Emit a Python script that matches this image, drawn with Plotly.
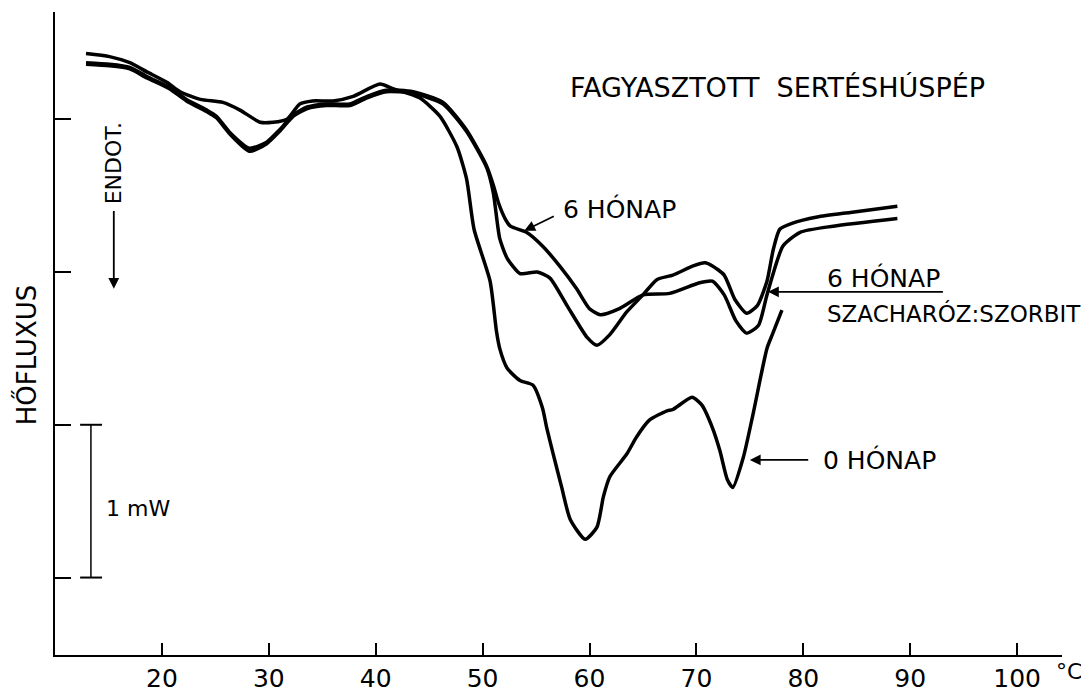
import plotly.graph_objects as go

# DSC thermogram, frozen pork mince
# temperature in degC, heat flux in mW (arbitrary baseline)

# 0 months
t0 = [12.9, 15.1, 17.0, 18.6, 20.5, 21.7, 23.6, 25.7, 27.3, 29.2, 30.4, 31.7, 32.9,
      34.1, 36.0, 37.9, 40.4, 41.6, 44.1, 46.0, 47.6, 48.5, 49.2, 50.7, 51.3, 51.6,
      52.3, 53.5, 54.7, 55.6, 56.0, 56.6, 57.4, 58.2, 59.6, 60.7, 61.3, 61.9, 63.5,
      64.4, 65.6, 67.2, 67.8, 69.6, 70.5, 71.5, 72.2, 72.9, 73.4, 74.4, 75.3, 76.6,
      77.1, 78.0]
q0 = [3.43, 3.41, 3.37, 3.31, 3.24, 3.18, 3.13, 3.11, 3.06, 2.98, 2.98, 3.00, 3.10,
      3.12, 3.12, 3.15, 3.23, 3.20, 3.14, 3.02, 2.82, 2.61, 2.28, 1.94, 1.61, 1.50,
      1.37, 1.29, 1.26, 1.11, 0.98, 0.81, 0.59, 0.38, 0.25, 0.33, 0.53, 0.66, 0.81,
      0.92, 1.03, 1.09, 1.10, 1.18, 1.13, 0.98, 0.83, 0.64, 0.59, 0.79, 1.07, 1.50,
      1.59, 1.75]

# 6 months
t6 = [12.9, 15.1, 17.0, 18.6, 20.7, 22.3, 24.2, 25.1, 26.4, 28.2, 29.8, 31.0, 32.3,
      33.6, 35.4, 37.6, 39.2, 41.0, 43.5, 46.3, 48.5, 50.4, 51.0, 51.5, 52.1, 52.6,
      54.1, 55.6, 57.2, 58.8, 60.0, 61.0, 62.8, 65.0, 67.5, 70.3, 71.5, 72.6, 73.7,
      74.7, 75.8, 76.6, 78.1, 79.7, 82.8, 88.8]
q6 = [3.37, 3.36, 3.34, 3.28, 3.21, 3.13, 3.06, 3.02, 2.91, 2.81, 2.85, 2.93, 3.03,
      3.08, 3.10, 3.10, 3.15, 3.19, 3.18, 3.11, 2.93, 2.69, 2.57, 2.45, 2.35, 2.30,
      2.26, 2.17, 2.04, 1.89, 1.76, 1.72, 1.76, 1.85, 1.86, 1.93, 1.94, 1.85, 1.68,
      1.60, 1.65, 1.85, 2.17, 2.26, 2.30, 2.35]

# 6 months, sucrose:sorbitol
t6s = [12.9, 15.1, 17.0, 18.6, 20.7, 22.3, 24.2, 25.1, 26.4, 28.2, 29.8, 31.0, 32.3,
       33.6, 35.4, 37.6, 39.2, 41.0, 43.5, 46.3, 48.5, 50.4, 51.0, 51.6, 52.3, 53.5,
       55.1, 56.3, 57.9, 59.8, 60.7, 61.9, 63.5, 65.0, 66.3, 67.8, 69.7, 70.8, 71.5,
       72.6, 73.6, 74.7, 75.7, 76.6, 77.2, 77.8, 79.0, 81.3, 84.4, 88.8]
q6s = [3.36, 3.35, 3.33, 3.27, 3.20, 3.12, 3.05, 3.01, 2.90, 2.79, 2.84, 2.92, 3.02,
       3.07, 3.09, 3.09, 3.14, 3.18, 3.17, 3.10, 2.92, 2.68, 2.52, 2.22, 2.09, 1.99,
       2.00, 1.96, 1.78, 1.57, 1.52, 1.59, 1.74, 1.85, 1.95, 1.98, 2.04, 2.06, 2.04,
       1.98, 1.82, 1.73, 1.78, 1.94, 2.15, 2.28, 2.32, 2.36, 2.39, 2.43]

x_ticks = [20, 30, 40, 50, 60, 70, 80, 90, 100]
x_labels = ["20", "30", "40", "50", "60", "70", "80", "90", "100"]
y_ticks = [0, 1, 2, 3]

FONT = "DejaVu Sans"
INK = "black"

fig = go.Figure()
for tt, qq, name in [(t0, q0, "0 HÓNAP"), (t6, q6, "6 HÓNAP"),
                     (t6s, q6s, "6 HÓNAP SZACHARÓZ:SZORBIT")]:
    fig.add_trace(go.Scatter(x=tt, y=qq, mode="lines", name=name,
                             line=dict(color=INK, width=3.5, shape="spline", smoothing=0.6)))

# labels
def label(text, x, y, size=22, anchor="left", **kw):
    fig.add_annotation(text=text, x=x, y=y, showarrow=False, xanchor=anchor,
                       font=dict(family=FONT, size=size, color=INK), **kw)

label("FAGYASZTOTT  SERTÉSHÚSPÉP", 77.6, 3.21, size=27, anchor="center")
label("6 HÓNAP", 57.3, 2.41, size=25)
label("6 HÓNAP", 82.0, 1.96, size=25)
label("SZACHARÓZ:SZORBIT", 82.0, 1.73, size=23)
label("0 HÓNAP", 81.7, 0.77, size=25)
label("ENDOT.", 15.5, 2.71, size=22, anchor="center", textangle=-90)
label("1 mW", 14.6, 0.455, size=22)
fig.add_annotation(text="HŐFLUXUS", xref="paper", x=-0.028, y=1.46, showarrow=False,
                   xanchor="center", yanchor="middle", textangle=-90,
                   font=dict(family=FONT, size=26, color=INK))
fig.add_annotation(text="°C", xref="paper", yref="paper", x=1.007, y=-0.026,
                   xanchor="center", yanchor="middle", showarrow=False,
                   font=dict(family=FONT, size=22, color=INK))

# arrows pointing at the curves
def arrow(x_tip, y_tip, x_tail, y_tail, head=2):
    fig.add_annotation(x=x_tip, y=y_tip, ax=x_tail, ay=y_tail, axref="x", ayref="y",
                       text="", showarrow=True, arrowhead=head, arrowsize=1.2,
                       arrowwidth=1.8, arrowcolor=INK)

arrow(53.9, 2.27, 56.8, 2.37)
arrow(76.7, 1.87, 93.2, 1.87)
arrow(75.0, 0.77, 80.6, 0.77)
arrow(15.5, 1.89, 15.5, 2.41)

# 1 mW scale bar
for y in (0, 1):
    fig.add_shape(type="line", x0=12.35, x1=14.4, y0=y, y1=y, line=dict(color=INK, width=2))
fig.add_shape(type="line", x0=13.36, x1=13.36, y0=0, y1=1, line=dict(color=INK, width=1.5))

fig.update_xaxes(range=[10, 104.2], showline=True, linecolor=INK, linewidth=2,
                 ticks="inside", ticklen=12, tickwidth=2, tickcolor=INK,
                 tickvals=x_ticks, ticktext=x_labels, showgrid=False, zeroline=False,
                 tickfont=dict(family=FONT, size=25, color=INK))
fig.update_yaxes(range=[-0.507, 3.702], showline=True, linecolor=INK, linewidth=2,
                 ticks="inside", ticklen=16, tickwidth=2, tickcolor=INK,
                 tickvals=y_ticks, showticklabels=False, showgrid=False, zeroline=False)

# the page body has an 8px margin, so the figure is sized to fit inside it
fig.update_layout(width=1081, height=689, showlegend=False,
                  plot_bgcolor="white", paper_bgcolor="white",
                  margin=dict(l=47, r=27, t=4, b=38),
                  font=dict(family=FONT, color=INK))

fig.write_html("out.html")
